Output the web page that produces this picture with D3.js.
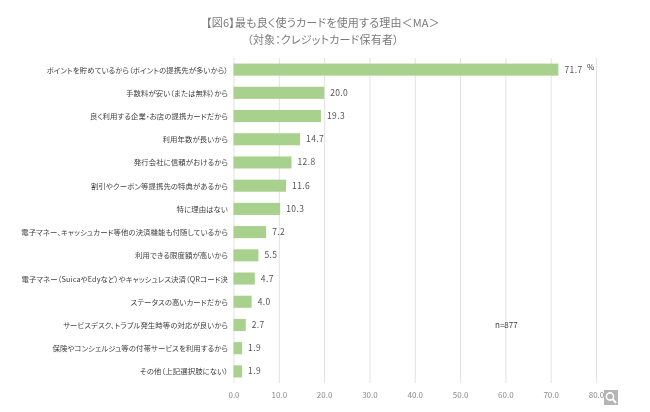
<!DOCTYPE html>
<html><head><meta charset="utf-8">
<script src="https://cdnjs.cloudflare.com/ajax/libs/d3/7.8.5/d3.min.js"></script>
<style>html,body{margin:0;padding:0;background:#fff}svg{display:block;filter:blur(0.5px)}text{font-family:"Noto Sans CJK JP","Noto Sans",sans-serif}.cat,.title{font-feature-settings:"palt"}.cat{letter-spacing:.08px}.title{letter-spacing:.18px}</style>
</head><body><svg id="c" width="650" height="412"></svg>
<script>
const categories=["ポイントを貯めているから（ポイントの提携先が多いから）","手数料が安い（または無料）から","良く利用する企業・お店の提携カードだから","利用年数が長いから","発行会社に信頼がおけるから","割引やクーポン等提携先の特典があるから","特に理由はない","電子マネー、キャッシュカード等他の決済機能も付随しているから","利用できる限度額が高いから","電子マネー（SuicaやEdyなど）やキャッシュレス決済（QRコード決","ステータスの高いカードだから","サービスデスク、トラブル発生時等の対応が良いから","保険やコンシェルジュ等の付帯サービスを利用するから","その他（上記選択肢にない）"];
const values=[71.7,20.0,19.3,14.7,12.8,11.6,10.3,7.2,5.5,4.7,4.0,2.7,1.9,1.9];
const ticks=[0,10,20,30,40,50,60,70,80];
const titleLines=["【図6】最も良く使うカードを使用する理由＜MA＞","（対象：クレジットカード保有者）"];
const svg=d3.select("#c");
const x=d3.scaleLinear().domain([0,80]).range([233.5,596]);
const y=d3.scaleBand().domain(categories).range([58,383]).paddingInner(0.48).paddingOuter(0.24);
svg.selectAll(".title").data(titleLines).join("text").attr("class","title").attr("x",323).attr("y",(d,i)=>26.5+i*17.2).attr("text-anchor","middle").attr("font-size",11).attr("fill","#7a7a7a").text(d=>d);
const gx=svg.append("g").attr("transform","translate(0,383)").call(d3.axisBottom(x).tickValues(ticks).tickFormat(d3.format(".1f")).tickSize(-325).tickPadding(9));
gx.select(".domain").remove();
gx.selectAll("line").attr("stroke","#e2e2e2");
gx.selectAll("text").attr("fill","#8a8a8a").attr("font-size",8);
svg.selectAll(".bar").data(values).join("rect").attr("x",x(0)).attr("y",(d,i)=>y(categories[i])).attr("width",d=>x(d)-x(0)).attr("height",y.bandwidth()).attr("fill","#a9d18e");
svg.selectAll(".val").data(values).join("text").attr("x",d=>x(d)+6).attr("y",(d,i)=>y(categories[i])+y.bandwidth()/2+3).attr("font-size",8.5).attr("fill","#555").attr("letter-spacing",0.4).text(d=>d.toFixed(1));
svg.selectAll(".cat").data(categories).join("text").attr("class","cat").attr("x",228).attr("y",d=>y(d)+y.bandwidth()/2+3).attr("text-anchor","end").attr("font-size",7.4).attr("fill","#404040").text(d=>d);
svg.append("text").attr("x",587).attr("y",70).attr("font-size",8).attr("fill","#404040").text("%");
svg.append("text").attr("x",495).attr("y",328).attr("font-size",8).attr("fill","#404040").text("n=877");
const m=svg.append("g").attr("transform","translate(604,390)");
m.append("rect").attr("width",14).attr("height",15).attr("fill","#b5b5b5");
m.append("circle").attr("cx",6).attr("cy",6.5).attr("r",3.6).attr("fill","none").attr("stroke","#fff").attr("stroke-width",1.6);
m.append("line").attr("x1",8.6).attr("y1",9).attr("x2",12).attr("y2",13).attr("stroke","#fff").attr("stroke-width",2);
</script></body></html>
